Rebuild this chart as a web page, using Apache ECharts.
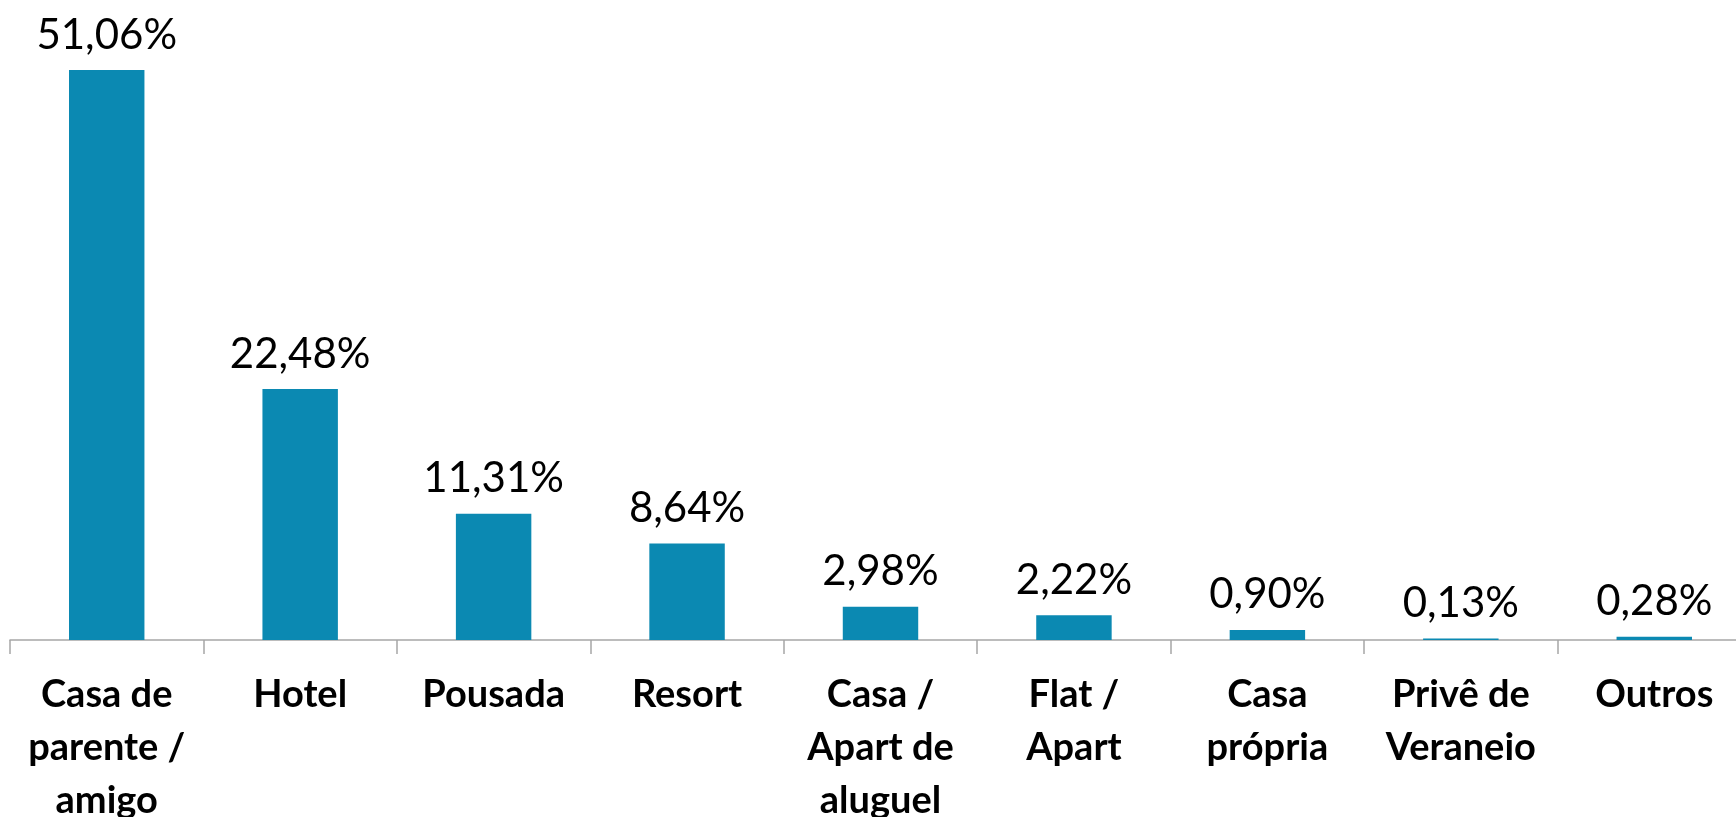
<!DOCTYPE html>
<html>
<head>
<meta charset="utf-8">
<script src="https://cdn.jsdelivr.net/npm/echarts@6/dist/echarts.min.js"></script>
<style>
  html, body { margin: 0; padding: 0; background: #fff; }
  #chart { width: 1736px; height: 817px; }
</style>
</head>
<body>
<div id="chart"></div>
<script>
var categorias = [
  "Casa de\nparente /\namigo",
  "Hotel",
  "Pousada",
  "Resort",
  "Casa /\nApart de\naluguel",
  "Flat /\nApart",
  "Casa\nprópria",
  "Privê de\nVeraneio",
  "Outros"
];
var percentuais = [51.06, 22.48, 11.31, 8.64, 2.98, 2.22, 0.90, 0.13, 0.28];

var grafico = echarts.init(document.getElementById("chart"));

var option = {
  animation: false,
  grid: {
    left: 10, right: -15, top: 26, bottom: 177,
    containLabel: false,
    outerBoundsMode: "none"
  },
  xAxis: {
    type: "category",
    data: categorias,
    axisLine: { lineStyle: { color: "#a6a6a6", width: 1.5 } },
    axisTick: { show: true, length: 14, lineStyle: { color: "#a6a6a6", width: 1.5 } },
    axisLabel: {
      interval: 0,
      color: "#000",
      fontFamily: "Lato",
      fontWeight: "bold",
      fontSize: 38,
      lineHeight: 53,
      margin: 28
    }
  },
  yAxis: {
    type: "value",
    min: 0,
    max: 55,
    interval: 5,
    show: false
  },
  series: [{
    type: "bar",
    data: percentuais,
    barWidth: "39%",
    itemStyle: { color: "#0b89b2" },
    label: {
      show: true,
      position: "top",
      distance: 14,
      color: "#000",
      fontFamily: "Lato",
      fontSize: 42,
      formatter: function (p) {
        return p.value.toFixed(2).replace(".", ",") + "%";
      }
    }
  }]
};
grafico.setOption(option);
</script>
</body>
</html>
